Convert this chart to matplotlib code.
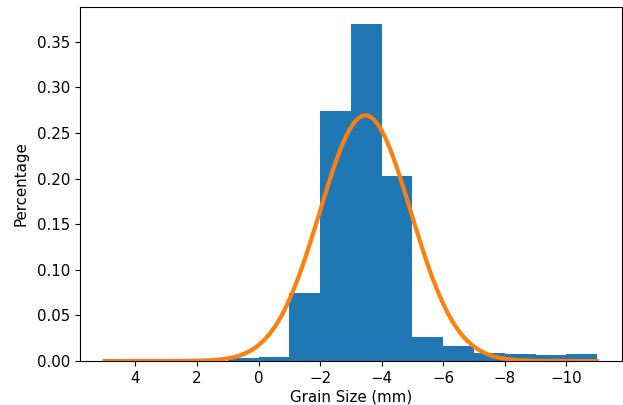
import numpy as np
import matplotlib
matplotlib.use('Agg')
import matplotlib.pyplot as plt

# Histograma (amplada de classe 1 mm)
bin_edges = [1, 0, -1, -2, -3, -4, -5, -6, -7, -8, -9, -10, -11]
bin_heights = [0.003, 0.0048, 0.0745, 0.2735, 0.3695, 0.2025, 0.0262, 0.0160,
               0.0085, 0.0080, 0.0068, 0.0082]

# Ajust normal llegit de la corba
fit_mean = -3.47
fit_std = 1.482
fit_range = (5, -11)

plt.rcParams['font.size'] = 10.8

fig = plt.figure(figsize=(6.23, 4.05), dpi=100)
ax = fig.add_axes([0.1284, 0.1086, 0.8696, 0.8741])

left = np.array(bin_edges[1:])
ax.bar(left, bin_heights, width=1, align='edge', color='tab:blue')

x = np.linspace(fit_range[0], fit_range[1], 400)
pdf = np.exp(-0.5 * ((x - fit_mean) / fit_std) ** 2) / (fit_std * np.sqrt(2 * np.pi))
ax.plot(x, pdf, color='tab:orange', linewidth=3)

ax.invert_xaxis()
ax.set_xlabel("Grain Size (mm)", labelpad=3)
ax.set_ylabel("Percentage", labelpad=6)

fig.savefig('out.png', dpi=100)
